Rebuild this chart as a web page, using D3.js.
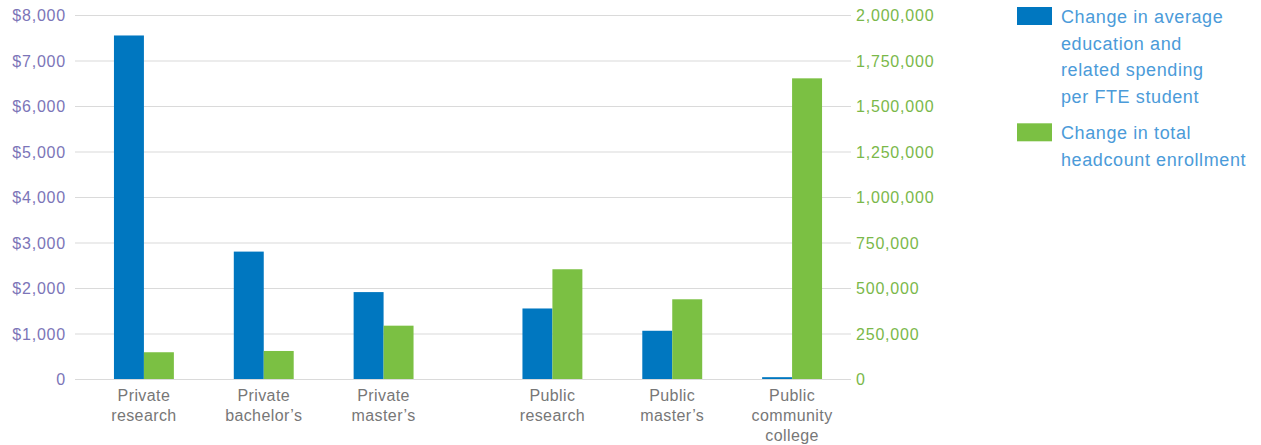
<!DOCTYPE html>
<html><head><meta charset="utf-8">
<script src="https://cdn.jsdelivr.net/npm/d3@7"></script>
<style>
body{margin:0;background:#fff;}
text{font-family:"Liberation Sans",Arial,Helvetica,sans-serif;}
</style></head>
<body><svg id="chart" width="1261" height="445"></svg>
<script>
const categories = [["Private","research"],["Private","bachelor\u2019s"],["Private","master\u2019s"],["Public","research"],["Public","master\u2019s"],["Public","community","college"]];
const sectors = ["private","private","private","public","public","public"];
const spending = [7550, 2800, 1910, 1550, 1060, 40];
const enrollment = [147000, 154000, 293000, 603000, 438000, 1652000];
const leftTicks = [0,1000,2000,3000,4000,5000,6000,7000,8000];
const rightTicks = [0,250000,500000,750000,1000000,1250000,1500000,1750000,2000000];
const legendItems = [
  {lines:["Change in average","education and","related spending","per FTE student"], color:"#0077c0"},
  {lines:["Change in total","headcount enrollment"], color:"#7bc043"}
];

const svg = d3.select("#chart");
const plotTop = 15, plotBottom = 379, gridLeft = 75, gridRight = 851;
const sectorGap = 49;

const yL = d3.scaleLinear().domain([0,8000]).range([plotBottom, plotTop]);
const yR = d3.scaleLinear().domain([0,2000000]).range([plotBottom, plotTop]);
const idx = categories.map((d,i)=>i);
const x = d3.scaleBand().domain(idx).range([84, 803]).padding(0);
const xc = i => x(i) + x.bandwidth()/2 + (sectors[i]==="public" ? sectorGap : 0);
const barW = x.bandwidth()*0.25;

// gridlines
svg.append("g").selectAll("line").data(leftTicks).join("line")
  .attr("x1", gridLeft).attr("x2", gridRight)
  .attr("y1", d=>yL(d)+0.5).attr("y2", d=>yL(d)+0.5)
  .attr("stroke", "#dadada").attr("stroke-width", 1.2);

// left axis
const axL = d3.axisLeft(yL).tickValues(leftTicks).tickSize(0).tickPadding(0)
  .tickFormat(d => d===0 ? "0" : "$" + d3.format(",")(d));
const gL = svg.append("g").attr("transform", `translate(66,0)`).call(axL);
gL.select(".domain").remove();
gL.selectAll("text").attr("fill","#7c75b8").style("font-size","16px").style("letter-spacing","0.8px").attr("dy","0.36em");

// right axis
const axR = d3.axisRight(yR).tickValues(rightTicks).tickSize(0).tickPadding(0)
  .tickFormat(d3.format(","));
const gR = svg.append("g").attr("transform", `translate(856,0)`).call(axR);
gR.select(".domain").remove();
gR.selectAll("text").attr("fill","#7ab84a").style("font-size","16px").style("letter-spacing","0.8px").attr("dy","0.36em");

// bars
svg.append("g").selectAll("rect").data(idx).join("rect")
  .attr("x", i => xc(i) - barW).attr("width", barW)
  .attr("y", i => yL(spending[i])).attr("height", i => yL(0) - yL(spending[i]))
  .attr("fill", "#0077c0");
svg.append("g").selectAll("rect").data(idx).join("rect")
  .attr("x", i => xc(i)).attr("width", barW)
  .attr("y", i => yR(enrollment[i])).attr("height", i => yR(0) - yR(enrollment[i]))
  .attr("fill", "#7bc043");

// x labels
const xl = svg.append("g").selectAll("text").data(idx).join("text")
  .attr("x", i => xc(i)).attr("y", 401)
  .attr("text-anchor","middle").attr("fill","#777")
  .style("font-size","16px").style("letter-spacing","0.4px");
xl.each(function(i){
  const t = d3.select(this);
  categories[i].forEach((s,k)=>{
    t.append("tspan").attr("x", xc(i)).attr("dy", k===0?0:20).text(s);
  });
});

// legend
const lg = svg.append("g");
let ly = 7;
legendItems.forEach(item=>{
  lg.append("rect").attr("x",1017).attr("y",ly).attr("width",35).attr("height",18).attr("fill",item.color);
  const t = lg.append("text").attr("x",1061).attr("y",ly+16).attr("fill","#4b9bd9")
    .style("font-size","18px").style("letter-spacing","0.6px");
  item.lines.forEach((s,k)=>t.append("tspan").attr("x",1061).attr("dy",k===0?0:26.7).text(s));
  ly += item.lines.length*26.7 + 9.5;
});
</script></body></html>
